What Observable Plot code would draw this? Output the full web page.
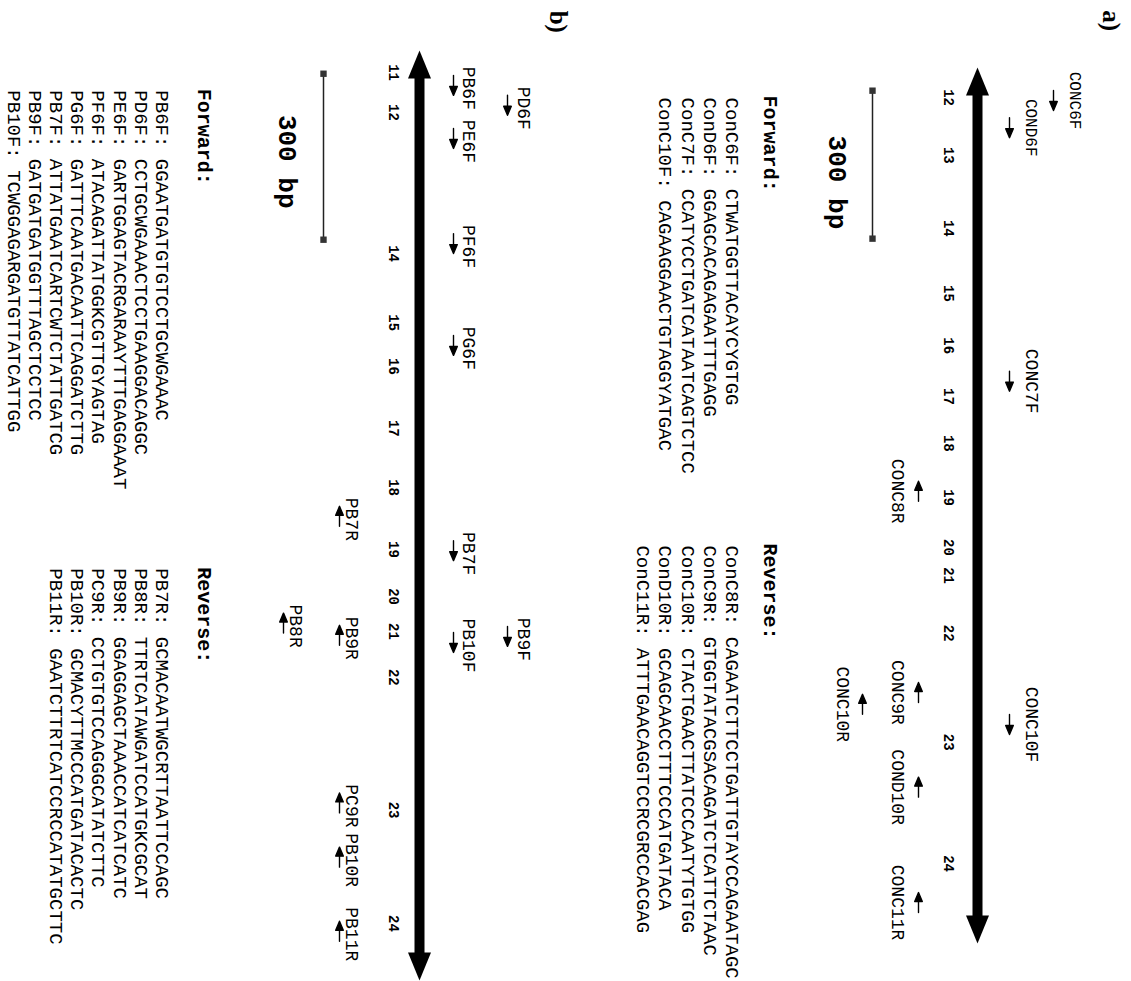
<!DOCTYPE html>
<html><head><meta charset="utf-8">
<script src="https://cdn.jsdelivr.net/npm/d3@7"></script>
<script src="https://cdn.jsdelivr.net/npm/@observablehq/plot@0.6"></script>
<style>
html,body{margin:0;padding:0;background:#fff;}
#wrap{position:relative;width:1131px;height:981px;overflow:hidden;background:#fff;}
#panelB{position:absolute;left:0;top:0;width:600px;height:981px;}
#panelA{position:absolute;left:600px;top:0;width:531px;height:981px;}
</style></head><body><div id="wrap"><div id="panelB"></div><div id="panelA"></div></div>
<script>
// ================= DATA (positions along the map, in bp) =================
// Panel a
const exonsA = ["12","13","14","15","16","17","18","19","20","21","22","23","24"];
const exonPosA = [61,178,326,458,564,667,762,872,973,1030,1147,1368,1614];
const geneA = [0, 1776];
const scaleBarA = [47, 347];
const primersA = ["CONC6F","COND6F","CONC7F","CONC8R","CONC9R","CONC10R","CONC10F","COND10R","CONC11R"];
const primerPosA = [67,122,636,859,1267,1291,1332,1459,1693];
const tierA = [2,1,1,1,1,2,1,1,1];
const fwdNamesA = ["ConC6F","ConD6F","ConC7F","ConC10F"];
const fwdSeqsA = ["CTWATGGTTACAYCYGTGG","GGAGCACAGAGAATTTGAGG","CCATYCCTGATCATAATCAGTCTCC","CAGAAGGAACTGTAGGYATGAC"];
const revNamesA = ["ConC8R","ConC9R","ConC10R","ConD10R","ConC11R"];
const revSeqsA = ["CAGAATCTTCCTGATTGTAYCCAGAATAGC","GTGGTATACGSACAGATCTCATTCTAAC","CTACTGAACTTATCCCAATYTGTGG","GCAGCAACCTTTCCCATGATACA","ATTTGAACAGGTCCRCGRCCACGAG"];
const listStartA = {fwdHead: 57, fwd: 61, revHead: 965, rev: 969, letter: -116, scaleLabel: 233};

// Panel b
const exonsB = ["11","12","14","15","16","17","18","19","20","21","22","23","24"];
const exonPosB = [40,112,367,492,571,683,790,902,987,1050,1133,1373,1578];
const geneB = [0, 1681];
const scaleBarB = [42, 342];
const primersB = ["PB6F","PD6F","PE6F","PF6F","PG6F","PB7R","PB7F","PB8R","PB9F","PB9R","PB10F","PC9R","PB10R","PB11R"];
const primerPosB = [63,99,159,349,533,842,904,1035,1059,1057,1070,1360,1458,1592];
const tierB = [1,2,1,1,1,1,1,2,2,1,1,1,1,1];
const fwdNamesB = ["PB6F","PD6F","PE6F","PF6F","PG6F","PB7F","PB9F","PB10F"];
const fwdSeqsB = ["GGAATGATGTGTCCTGCWGAAAC","CCTGCWGAAACTCCTGAAGGACAGGC","GARTGGAGTACRGARAAYTTTGAGGAAAT","ATACAGATTATGGKCGTTGYAGTAG","GATTTCAATGACAATTCAGGATCTTG","ATTATGAATCARTCWTCTATTGATCG","GATGATGATGGTTTAGCTCCTCC","TCWGGAGARGATGTTATCATTGG"];
const revNamesB = ["PB7R","PB8R","PB9R","PC9R","PB10R","PB11R"];
const revSeqsB = ["GCMACAATWGCRTTAATTCCAGC","TTRTCATAWGATCCATGKCGCAT","GGAGGAGCTAAACCATCATCATC","CCTGTGTCCAGGGCATATCTTC","GCMACYTTMCCCATGATACACTC","GAATCTTRTCATCCRCCATATGCTTC"];
const listStartB = {fwdHead: 69, fwd: 72, revHead: 934, rev: 936, letter: -72, scaleLabel: 201};

// ================= LAYOUT / STYLE =================
const MONO = "'Liberation Mono', 'DejaVu Sans Mono', monospace";
const SERIF = "'Liberation Serif', 'DejaVu Serif', serif";

const headShape = {draw(ctx, l) { const w = 11.5; ctx.moveTo(0, -l); ctx.lineTo(-w, 0); ctx.lineTo(w, 0); ctx.closePath(); }};
const smallArrow = {draw(ctx, l) { const h = 9, w = 3.8; ctx.moveTo(0, 0); ctx.lineTo(0, -l + h); ctx.moveTo(0, -l); ctx.lineTo(-w, -l + h); ctx.lineTo(w, -l + h); ctx.closePath(); }};

function panel(cfg) {
  const {W, yRange, gene, exons, exonPos, primers, primerPos, tier, scaleBar, fNames, fSeqs, rNames, rSeqs, S, L, letter, labelFont, labelDy} = cfg;
  const isF = n => n.endsWith("F");
  const idx = primers.map((d, i) => i);
  const fLines = fNames.map((n, i) => `${n}: ${fSeqs[i]}`);
  const rLines = rNames.map((n, i) => `${n}: ${rSeqs[i]}`);
  return Plot.plot({
    width: W, height: 981, margin: 0,
    x: {domain: [0, W], range: [0, W], axis: null},
    y: {domain: gene, range: yRange, axis: null},
    style: {background: "#fff"},
    marks: [
      // gene bar + arrowheads
      Plot.ruleX([gene], {x: L.axis, y1: d => d[0], y2: d => d[1], stroke: "#000", strokeWidth: 10, insetTop: 24, insetBottom: 24}),
      Plot.vector([gene[0]], {x: L.axis, y: d => d, length: 28, rotate: 0, anchor: "end", shape: headShape, fill: "#000", stroke: "none"}),
      Plot.vector([gene[1]], {x: L.axis, y: d => d, length: 28, rotate: 180, anchor: "end", shape: headShape, fill: "#000", stroke: "none"}),
      // exon numbers
      Plot.text(exons, {x: L.tick, y: (d, i) => exonPos[i], text: d => d, rotate: 90, fontFamily: MONO, fontWeight: "bold", fontSize: 14, fill: "#000"}),
      // primer arrows
      Plot.vector(idx, {
        x: i => isF(primers[i]) ? L.fArrow[tier[i] - 1] : L.rArrow[tier[i] - 1],
        y: i => primerPos[i], rotate: i => isF(primers[i]) ? 180 : 0,
        length: 20, anchor: "middle", shape: smallArrow, fill: "#000", stroke: "#000", strokeWidth: 1.4
      }),
      Plot.text(idx, {
        x: i => isF(primers[i]) ? L.fLabel[tier[i] - 1] : L.rLabel[tier[i] - 1],
        y: i => primerPos[i], text: i => primers[i], rotate: 90, dy: labelDy,
        fontFamily: MONO, fontSize: i => labelFont(primers[i]), fill: "#000"
      }),
      // scale bar
      Plot.ruleX([scaleBar], {x: L.scale, y1: d => d[0], y2: d => d[1], stroke: "#222", strokeWidth: 1.5}),
      Plot.dot(scaleBar, {x: L.scale, y: d => d, symbol: "square", r: 3.6, fill: "#333", stroke: "none"}),
      Plot.text(["300 bp"], {x: L.scaleLabel, y: S.scaleLabel, text: d => d, rotate: 90, fontFamily: MONO, fontWeight: "bold", fontSize: 26, fill: "#000"}),
      // primer lists
      Plot.text(["Forward:"], {x: L.head, y: S.fwdHead, text: d => d, rotate: 90, textAnchor: "start", fontFamily: MONO, fontWeight: "bold", fontSize: 20, fill: "#000"}),
      Plot.text(fLines, {x: (d, i) => L.fRows[i], y: S.fwd, text: d => d, rotate: 90, textAnchor: "start", fontFamily: MONO, fontSize: 19, fill: "#000"}),
      Plot.text(["Reverse:"], {x: L.head, y: S.revHead, text: d => d, rotate: 90, textAnchor: "start", fontFamily: MONO, fontWeight: "bold", fontSize: 20, fill: "#000"}),
      Plot.text(rLines, {x: (d, i) => L.rRows[i], y: S.rev, text: d => d, rotate: 90, textAnchor: "start", fontFamily: MONO, fontSize: 19, fill: "#000"}),
      // panel letter
      Plot.text([letter], {x: L.letter, y: S.letter, text: d => d, rotate: 90, textAnchor: "start", fontFamily: SERIF, fontWeight: "bold", fontSize: 25, fill: "#000"})
    ]
  });
}

const plotA = panel({
  W: 531, yRange: [67, 943], gene: geneA, exons: exonsA, exonPos: exonPosA,
  primers: primersA, primerPos: primerPosA, tier: tierA, scaleBar: scaleBarA,
  fNames: fwdNamesA, fSeqs: fwdSeqsA, rNames: revNamesA, rSeqs: revSeqsA, S: listStartA, letter: "a)",
  labelFont: n => (n === "CONC6F" || n === "COND6F") ? 16 : 18, labelDy: 0,
  L: {axis: 377, tick: 348, fArrow: [409, 453], fLabel: [431, 475], rArrow: [318, 262], rLabel: [297, 242],
      scale: 272, scaleLabel: 237, head: 170, fRows: [132, 110, 88, 65], rRows: [132, 110, 88, 65, 43], letter: 510}
});
const plotB = panel({
  W: 600, yRange: [50, 980], gene: geneB, exons: exonsB, exonPos: exonPosB,
  primers: primersB, primerPos: primerPosB, tier: tierB, scaleBar: scaleBarB,
  fNames: fwdNamesB, fSeqs: fwdSeqsB, rNames: revNamesB, rSeqs: revSeqsB, S: listStartB, letter: "b)",
  labelFont: () => 18, labelDy: 3,
  L: {axis: 419, tick: 393, fArrow: [453, 507], fLabel: [468, 523], rArrow: [339, 283], rLabel: [351, 295],
      scale: 323, scaleLabel: 287, head: 204, fRows: [162, 141, 120, 98, 77, 56, 35, 14], rRows: [162, 141, 120, 98, 77, 56], letter: 557}
});
document.getElementById("panelA").appendChild(plotA);
document.getElementById("panelB").appendChild(plotB);
</script></body></html>
